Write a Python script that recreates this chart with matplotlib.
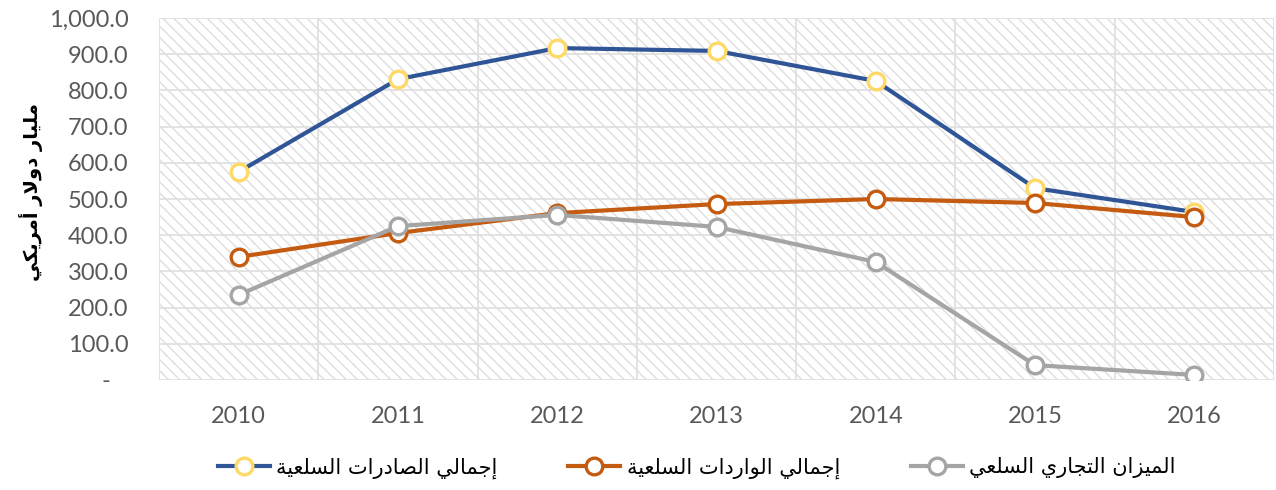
import numpy as np
import matplotlib.pyplot as plt
from matplotlib.patches import Rectangle
from matplotlib.ticker import FuncFormatter, MultipleLocator


years = ["2010", "2011", "2012", "2013", "2014", "2015", "2016"]
exports = [575, 831, 917, 909, 826, 530, 464]
imports = [340, 406, 461, 486, 500, 489, 450]
balance = [235, 425, 456, 423, 326, 41, 14]

labels = ["إجمالي الصادرات السلعية", "إجمالي الواردات السلعية", "الميزان التجاري السلعي"]
ylabel = "مليار دولار أمريكي"


# matplotlib has no arabic shaping, so pick presentation forms by hand
AR = {
    'ا': ('\uFE8D', '\uFE8E', None, None),
    'أ': ('\uFE83', '\uFE84', None, None),
    'إ': ('\uFE87', '\uFE88', None, None),
    'ب': ('\uFE8F', '\uFE90', '\uFE91', '\uFE92'),
    'ة': ('\uFE93', '\uFE94', None, None),
    'ت': ('\uFE95', '\uFE96', '\uFE97', '\uFE98'),
    'ج': ('\uFE9D', '\uFE9E', '\uFE9F', '\uFEA0'),
    'د': ('\uFEA9', '\uFEAA', None, None),
    'ر': ('\uFEAD', '\uFEAE', None, None),
    'ز': ('\uFEAF', '\uFEB0', None, None),
    'س': ('\uFEB1', '\uFEB2', '\uFEB3', '\uFEB4'),
    'ص': ('\uFEB9', '\uFEBA', '\uFEBB', '\uFEBC'),
    'ع': ('\uFEC9', '\uFECA', '\uFECB', '\uFECC'),
    'ك': ('\uFED9', '\uFEDA', '\uFEDB', '\uFEDC'),
    'ل': ('\uFEDD', '\uFEDE', '\uFEDF', '\uFEE0'),
    'م': ('\uFEE1', '\uFEE2', '\uFEE3', '\uFEE4'),
    'ن': ('\uFEE5', '\uFEE6', '\uFEE7', '\uFEE8'),
    'و': ('\uFEED', '\uFEEE', None, None),
    'ي': ('\uFEF1', '\uFEF2', '\uFEF3', '\uFEF4'),
}
LAM_ALEF = {'ا': ('\uFEFB', '\uFEFC'), 'أ': ('\uFEF7', '\uFEF8'), 'إ': ('\uFEF9', '\uFEFA')}


def shape(s):
    out = []
    i = 0
    n = len(s)
    while i < n:
        c = s[i]
        if c not in AR:
            out.append(c)
            i += 1
            continue
        prev = s[i - 1] if i > 0 else None
        join_prev = prev in AR and AR[prev][2] is not None
        if c == 'ل' and i + 1 < n and s[i + 1] in LAM_ALEF:
            out.append(LAM_ALEF[s[i + 1]][1 if join_prev else 0])
            i += 2
            continue
        nxt = s[i + 1] if i + 1 < n else None
        join_next = AR[c][2] is not None and nxt in AR
        iso, fin, ini, med = AR[c]
        if join_prev and join_next:
            out.append(med)
        elif join_prev:
            out.append(fin)
        elif join_next:
            out.append(ini)
        else:
            out.append(iso)
        i += 1
    return ''.join(reversed(out))


plt.rcParams['hatch.color'] = '#dedede'
plt.rcParams['hatch.linewidth'] = 1.0

fig = plt.figure(figsize=(12.76, 4.9), dpi=100)
ax = fig.add_axes([159 / 1276, 1 - 380 / 490, (1274 - 159) / 1276, (380 - 18) / 490])

x = np.arange(len(years))
ax.set_xlim(-0.5, len(years) - 0.5)
ax.set_ylim(0, 1000)

# hatched plot area
ax.add_patch(Rectangle((0, 0), 1, 1, transform=ax.transAxes, facecolor='white',
                       edgecolor='#dedede', lw=0, hatch='\\\\\\', zorder=0))

ax.plot(x, exports, color='#2f5597', lw=3, marker='o', ms=12, mfc='white',
        mec='#ffd966', mew=2.4, label=shape(labels[0]), zorder=3)
ax.plot(x, imports, color='#c55a11', lw=3, marker='o', ms=12, mfc='white',
        mec='#c55a11', mew=2.4, label=shape(labels[1]), zorder=3)
ax.plot(x, balance, color='#a5a5a5', lw=3, marker='o', ms=12, mfc='white',
        mec='#a5a5a5', mew=2.4, label=shape(labels[2]), zorder=3)

ax.set_xticks(x)
ax.set_xticklabels(years)
ax.set_xticks(np.arange(-0.5, len(years), 0.5), minor=True)
ax.yaxis.set_major_locator(MultipleLocator(100))
ax.yaxis.set_major_formatter(FuncFormatter(lambda v, p: '-   ' if v == 0 else f'{v:,.1f}'))
ax.grid(True, which='minor', axis='x', color='#e0e0e0', lw=1.3, zorder=1)
ax.grid(True, which='major', axis='y', color='#e0e0e0', lw=1.3, zorder=1)
ax.set_axisbelow(True)
for s in ax.spines.values():
    s.set_visible(False)

ax.tick_params(axis='both', which='both', length=0, labelsize=17, labelcolor='#595959')
ax.tick_params(axis='y', pad=22)
ax.tick_params(axis='x', pad=19)
for t in ax.get_xticklabels() + ax.get_yticklabels():
    t.set_fontfamily('Lato')

fig.text(31 / 1276, 1 - 192 / 490, shape(ylabel), rotation=90, ha='center', va='center',
         fontsize=14, fontweight='bold', family='DejaVu Sans')

ax.legend(loc='center', bbox_to_anchor=(0.546, 0.045), bbox_transform=fig.transFigure,
          ncol=3, frameon=False, prop={'family': 'DejaVu Sans', 'size': 15},
          handlelength=2.5, columnspacing=3.4, handletextpad=0.3)

plt.savefig('out.png', dpi=100)
